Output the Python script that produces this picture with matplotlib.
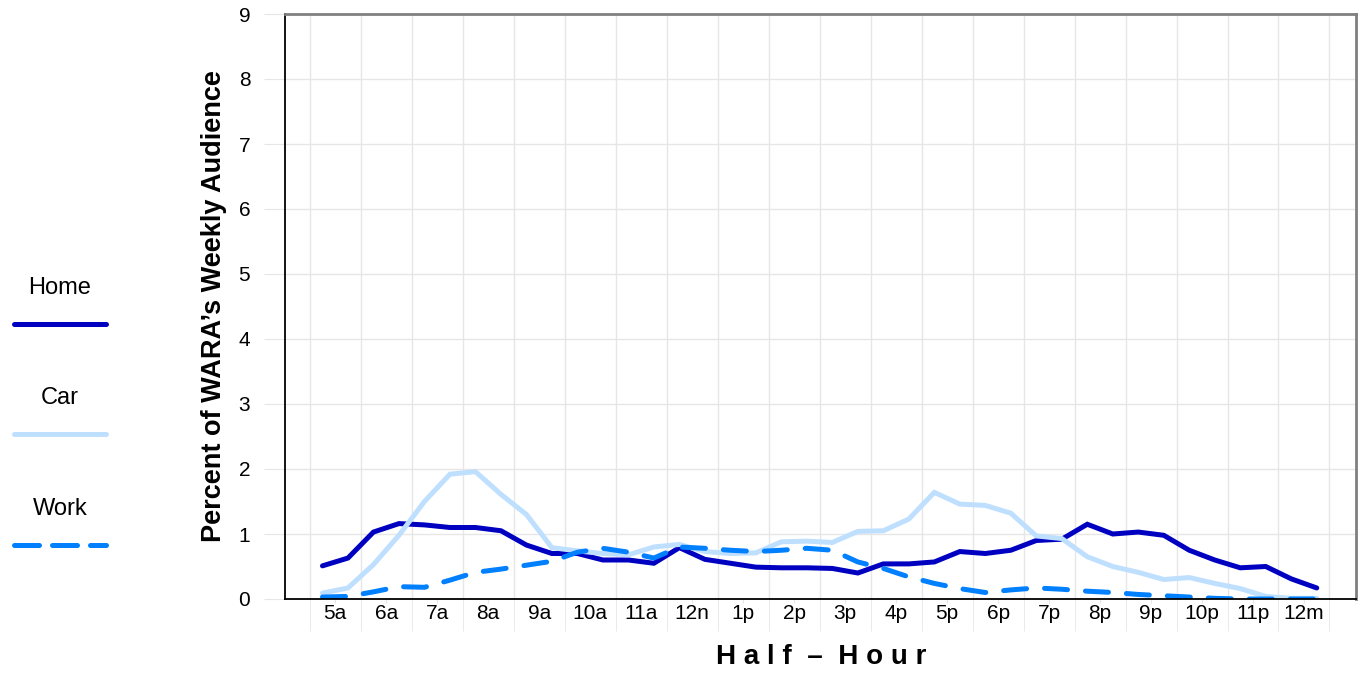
import numpy as np
import matplotlib
matplotlib.use("Agg")
import matplotlib.pyplot as plt
from matplotlib.lines import Line2D

plt.rcParams['font.family'] = ['Liberation Sans', 'DejaVu Sans']

# half-hour slots from 5a to 12m (40 slots)
hour_labels = ['5a', '6a', '7a', '8a', '9a', '10a', '11a', '12n', '1p', '2p',
               '3p', '4p', '5p', '6p', '7p', '8p', '9p', '10p', '11p', '12m']

home = [0.51, 0.63, 1.03, 1.16, 1.14, 1.10, 1.10, 1.05, 0.83, 0.70,
        0.70, 0.60, 0.60, 0.55, 0.79, 0.61, 0.55, 0.49, 0.48, 0.48,
        0.47, 0.40, 0.54, 0.54, 0.57, 0.73, 0.70, 0.75, 0.90, 0.92,
        1.15, 1.00, 1.03, 0.98, 0.75, 0.60, 0.48, 0.50, 0.31, 0.17]
car = [0.09, 0.17, 0.53, 0.98, 1.50, 1.92, 1.96, 1.61, 1.30, 0.79,
       0.74, 0.70, 0.68, 0.80, 0.84, 0.73, 0.70, 0.71, 0.88, 0.89,
       0.87, 1.04, 1.05, 1.23, 1.64, 1.46, 1.44, 1.32, 0.97, 0.93,
       0.65, 0.50, 0.41, 0.30, 0.33, 0.24, 0.16, 0.04, 0.01, 0.01]
work = [0.03, 0.04, 0.11, 0.19, 0.18, 0.29, 0.41, 0.46, 0.52, 0.58,
        0.72, 0.78, 0.72, 0.63, 0.80, 0.78, 0.75, 0.73, 0.75, 0.78,
        0.75, 0.57, 0.47, 0.34, 0.24, 0.16, 0.10, 0.14, 0.17, 0.15,
        0.12, 0.10, 0.07, 0.05, 0.03, 0.01, 0.00, 0.00, 0.00, 0.00]

series = [('Home', home, '#0000C0', '-'),
          ('Car', car, '#BFDFFF', '-'),
          ('Work', work, '#0080FF', '--')]

W, H = 1362, 673
fig = plt.figure(figsize=(W / 100, H / 100), dpi=100)
ax = fig.add_axes([285 / W, 1 - 599 / H, (1356 - 285) / W, (599 - 14) / H])

x = np.arange(len(home))
lw = 3.6
for name, vals, col, ls in series:
    line, = ax.plot(x, vals, color=col, lw=lw, ls=ls, solid_capstyle='round',
                    dash_capstyle='round', solid_joinstyle='miter')
    if ls == '--':
        line.set_dashes((4.6, 3.6))

ax.set_xlim(-1.47, 40.54)
ax.set_ylim(0, 9)
ax.set_yticks(range(10))
ax.set_xticks(np.arange(len(hour_labels)) * 2 + 0.5)
ax.set_xticklabels(hour_labels)
ax.set_xticks(np.arange(len(hour_labels) + 1) * 2 - 0.5, minor=True)

ax.grid(True, axis='y', color='#E6E6E6', lw=1)
ax.grid(True, axis='x', which='minor', color='#E6E6E6', lw=1)
ax.set_axisbelow(True)

ax.tick_params(axis='y', length=15, color='#E6E6E6', pad=10, labelsize=15)
ax.tick_params(axis='x', which='major', length=3, color='#E6E6E6', pad=0.5, labelsize=15)
ax.tick_params(axis='x', which='minor', length=23, color='#E6E6E6')

for s in ['top', 'right']:
    ax.spines[s].set_color('#808080')
    ax.spines[s].set_linewidth(2)
for s in ['left', 'bottom']:
    ax.spines[s].set_color('black')
    ax.spines[s].set_linewidth(1.3)

ax.set_ylabel('Percent of WARA\u2019s Weekly Audience', fontsize=19.5, fontweight='bold', labelpad=8)
fig.text(821 / W, 1 - 657 / H, 'H a l f  \u2013  H o u r', ha='center', va='center',
         fontsize=20, fontweight='bold')

# legend on the left, text above each sample line
leg_y = [(288, 324), (398, 434), (509, 545)]
for (name, vals, col, ls), (ty, ly) in zip(series, leg_y):
    fig.text(60 / W, 1 - ty / H, name, ha='center', va='center', fontsize=17)
    l = Line2D([14 / W, 106 / W], [1 - ly / H, 1 - ly / H], transform=fig.transFigure,
               color=col, lw=lw, ls=ls, solid_capstyle='round', dash_capstyle='round')
    if ls == '--':
        l.set_dashes((5.0, 2.6))
    fig.add_artist(l)

fig.savefig('out.png', dpi=100)
